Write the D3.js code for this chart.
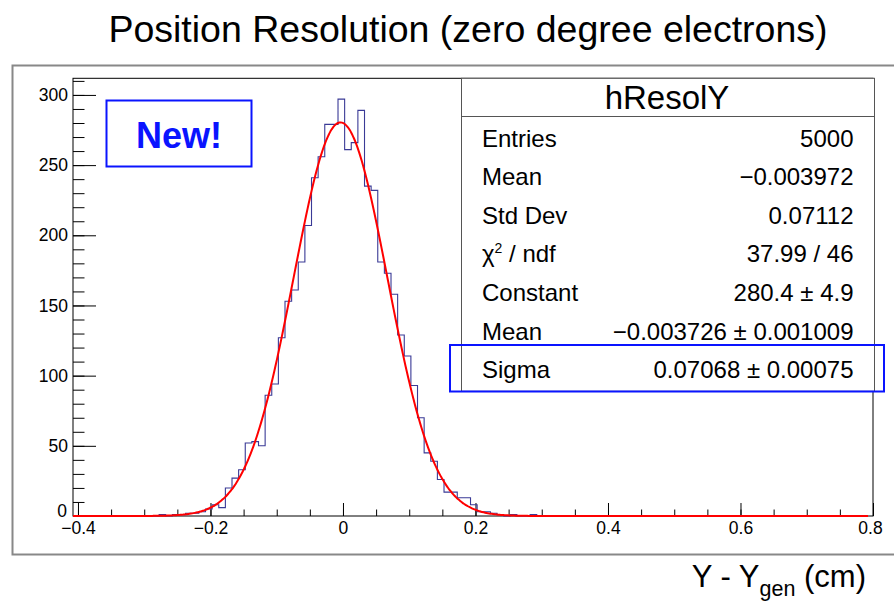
<!DOCTYPE html>
<html>
<head>
<meta charset="utf-8">
<script src="https://cdn.jsdelivr.net/npm/d3@7"></script>
<style>
    body { margin: 0; background: #fff; }
    svg text { font-family: "Liberation Sans", Arial, Helvetica, sans-serif; fill: #000; }
    .tick text { font-size: 17.5px; }
    .tick line { stroke: #000; }
</style>
</head>
<body>
<svg class="target" width="894" height="607"></svg>
<script>

    // histogram binning: 0.01 wide bins starting at binLow
    const binLow = -0.4075, binWidth = 0.01, nBins = 120;
    const xMax = 0.8;

    // counts for bins 12..70, the rest are empty
    const firstFilled = 12;
    const filledCounts = [
        0, 1, 0, 1, 1, 2, 2, 3, 5, 8,
        6, 20, 27, 33, 52, 53, 50, 86, 94, 127,
        153, 161, 181, 207, 241, 256, 279, 279, 297, 261,
        266, 289, 235, 232, 181, 173, 158, 129, 114, 93,
        70, 45, 39, 26, 17, 17, 13, 13, 8, 3,
        3, 2, 1, 0, 1, 0, 0, 1, 0
    ];

    // gaussian fit from the stats box
    const fitConstant = 280.4, fitMean = -0.003726, fitSigma = 0.07068;

    const xMajor = [-0.4, -0.2, 0, 0.2, 0.4, 0.6, 0.8];
    const yMajor = [0, 50, 100, 150, 200, 250, 300];

    const statLabels = ["Entries", "Mean", "Std Dev", "χ2 / ndf", "Constant", "Mean", "Sigma"];
    const statValues = ["5000", "\u22120.003972", "0.07112", "37.99 / 46", "280.4 \u00b1 4.9",
                        "\u22120.003726 \u00b1 0.001009", "0.07068 \u00b1 0.00075"];

    let counts = d3.range(nBins).map(i => {
        let j = i - firstFilled;
        return (j >= 0 && j < filledCounts.length) ? filledCounts[j] : 0;
    });

    let svg = d3.select(".target");

    let frame = {left: 73, right: 873, top: 78.3, bottom: 516};
    let yMax = 1.05 * d3.max(counts);

    let x = d3.scaleLinear().domain([binLow, xMax]).range([frame.left, frame.right]);
    let y = d3.scaleLinear().domain([0, yMax]).range([frame.bottom, frame.top]);

    let fmt = d => d3.format("")(+d.toFixed(1)).replace("-", "\u2212");

    // title
    svg.append("text")
        .attr("x", 468).attr("y", 42)
        .attr("text-anchor", "middle")
        .style("font-size", "37.5px")
        .text("Position Resolution (zero degree electrons)");

    // pad border (right edge runs off the picture)
    svg.append("rect")
        .attr("x", 12.5).attr("y", 65.5)
        .attr("width", 890).attr("height", 489)
        .attr("fill", "none").attr("stroke", "#888").attr("stroke-width", 2);

    // frame
    svg.append("rect")
        .attr("x", frame.left).attr("y", frame.top)
        .attr("width", frame.right - frame.left).attr("height", frame.bottom - frame.top)
        .attr("fill", "none").attr("stroke", "#000").attr("stroke-width", 1);

    // y axis, ticks pointing inward
    svg.append("g")
        .attr("transform", "translate(" + frame.left + ",0)")
        .call(d3.axisLeft(y).tickValues(d3.range(0, 311, 10)).tickSize(-11.5).tickFormat(""))
        .call(g => g.select(".domain").remove());
    svg.append("g")
        .attr("transform", "translate(" + frame.left + ",0)")
        .call(d3.axisLeft(y).tickValues(yMajor).tickSize(-23).tickPadding(5).tickFormat(d3.format("d")))
        .call(g => g.select(".domain").remove())
        .call(g => g.selectAll(".tick text").filter(d => d === 0).attr("dy", "0em").attr("x", -6));

    // x axis
    svg.append("g")
        .attr("transform", "translate(0," + frame.bottom + ")")
        .call(d3.axisBottom(x).tickValues(d3.range(-0.4, 0.801, 0.05)).tickSize(-6.5).tickFormat(""))
        .call(g => g.select(".domain").remove());
    svg.append("g")
        .attr("transform", "translate(0," + frame.bottom + ")")
        .call(d3.axisBottom(x).tickValues(xMajor).tickSize(-13).tickPadding(6).tickFormat(fmt))
        .call(g => g.select(".domain").remove())
        .call(g => g.selectAll(".tick text").filter(d => d === 0.8).attr("x", -3));

    // histogram outline
    let pts = counts.map((c, i) => [binLow + i * binWidth, c]);
    pts.push([binLow + nBins * binWidth, counts[nBins - 1]]);
    svg.append("path")
        .attr("d", d3.line().x(d => x(d[0])).y(d => y(d[1])).curve(d3.curveStepAfter)(pts))
        .attr("fill", "none").attr("stroke", "#3a3a96").attr("stroke-width", 1.1);

    // fit curve
    let gauss = v => fitConstant * Math.exp(-0.5 * Math.pow((v - fitMean) / fitSigma, 2));
    let fitPts = d3.range(binLow, binLow + nBins * binWidth + 1e-9, 0.002).map(v => [v, gauss(v)]);
    svg.append("path")
        .attr("d", d3.line().x(d => x(d[0])).y(d => y(d[1])).curve(d3.curveMonotoneX)(fitPts))
        .attr("fill", "none").attr("stroke", "#ff0000").attr("stroke-width", 2);

    // "New!" box
    svg.append("rect")
        .attr("x", 106.5).attr("y", 100.5).attr("width", 145).attr("height", 66)
        .attr("fill", "none").attr("stroke", "#0a14ff").attr("stroke-width", 2);
    svg.append("text")
        .attr("x", 179).attr("y", 147.5)
        .attr("text-anchor", "middle")
        .style("font-size", "36px").style("font-weight", "bold").style("fill", "#0a14ff")
        .text("New!");

    // stats box
    let st = svg.append("g");
    st.append("rect")
        .attr("x", 461.5).attr("y", 78.3).attr("width", 413).attr("height", 313)
        .attr("fill", "#fff").attr("stroke", "#555").attr("stroke-width", 1);
    st.append("line")
        .attr("x1", 461.5).attr("x2", 874.5).attr("y1", 116.5).attr("y2", 116.5)
        .attr("stroke", "#555");
    st.append("text")
        .attr("x", 667).attr("y", 109)
        .attr("text-anchor", "middle")
        .style("font-size", "33px")
        .text("hResolY");

    statLabels.forEach((lab, i) => {
        let yy = 146.5 + i * 38.65;
        let t = st.append("text").attr("x", 482).attr("y", yy).style("font-size", "24px");
        if (lab.startsWith("χ2")) {
            t.append("tspan").text("χ");
            t.append("tspan").attr("dy", -9).style("font-size", "14px").text("2");
            t.append("tspan").attr("dy", 9).text(" / ndf");
        } else {
            t.text(lab);
        }
        st.append("text").attr("x", 853.5).attr("y", yy)
            .attr("text-anchor", "end").style("font-size", "24px")
            .text(statValues[i]);
    });

    // highlight on sigma
    svg.append("rect")
        .attr("x", 450).attr("y", 345).attr("width", 434).attr("height", 46.5)
        .attr("fill", "none").attr("stroke", "#0a14ff").attr("stroke-width", 2);

    // x axis title
    let xt = svg.append("text")
        .attr("x", 866).attr("y", 587)
        .attr("text-anchor", "end")
        .style("font-size", "31px");
    xt.append("tspan").text("Y - Y");
    xt.append("tspan").attr("dy", 9).style("font-size", "21.5px").text("gen");
    xt.append("tspan").attr("dy", -9).text(" (cm)");

</script>
</body>
</html>
